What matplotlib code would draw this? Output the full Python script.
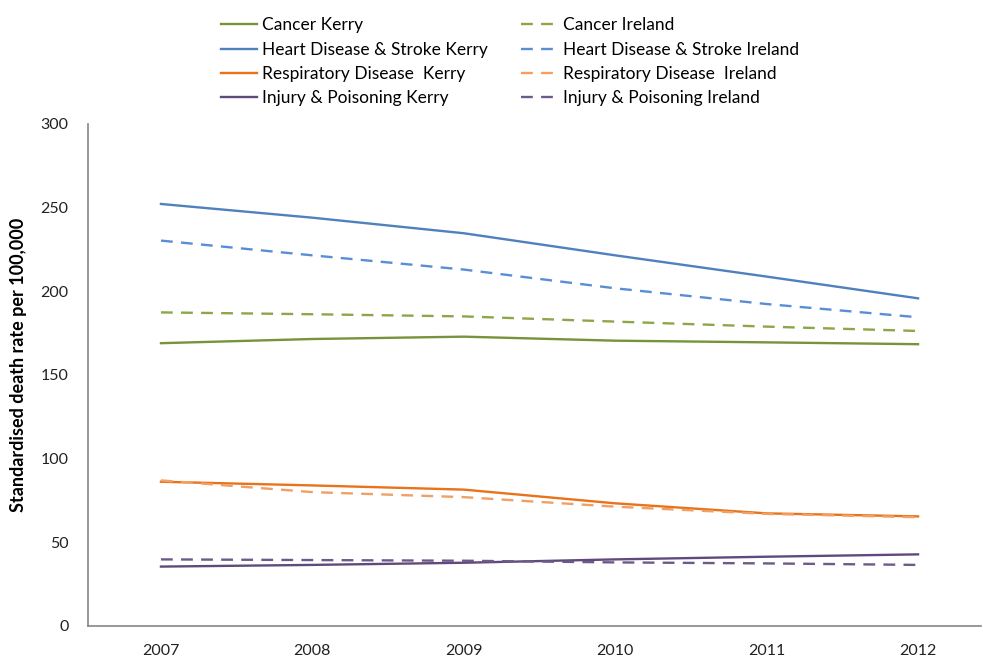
import matplotlib.pyplot as plt

plt.rcParams['font.family'] = ['Lato', 'DejaVu Sans']

years = [2007, 2008, 2009, 2010, 2011, 2012]

cancer_kerry = [169.0, 171.5, 172.9, 170.5, 169.5, 168.4]
cancer_ireland = [187.4, 186.3, 185.0, 181.9, 178.9, 176.3]
heart_kerry = [252.2, 244.0, 234.7, 221.5, 208.8, 195.8]
heart_ireland = [230.3, 221.5, 213.0, 201.8, 192.4, 184.5]
resp_kerry = [86.2, 84.0, 81.5, 73.3, 67.3, 65.5]
resp_ireland = [87.0, 80.0, 77.0, 71.3, 67.0, 65.0]
injury_kerry = [35.5, 36.5, 37.8, 39.8, 41.4, 42.8]
injury_ireland = [39.8, 39.4, 39.0, 38.0, 37.4, 36.5]

series = [
    ("Cancer Kerry", cancer_kerry, '#77933C', '-'),
    ("Heart Disease & Stroke Kerry", heart_kerry, '#4F81BD', '-'),
    ("Respiratory Disease  Kerry", resp_kerry, '#E8731A', '-'),
    ("Injury & Poisoning Kerry", injury_kerry, '#604A7B', '-'),
    ("Cancer Ireland", cancer_ireland, '#8DA64A', '--'),
    ("Heart Disease & Stroke Ireland", heart_ireland, '#5B8DD6', '--'),
    ("Respiratory Disease  Ireland", resp_ireland, '#F0A065', '--'),
    ("Injury & Poisoning Ireland", injury_ireland, '#6D5A8A', '--'),
]

fig = plt.figure(figsize=(9.83, 6.57), dpi=100)
ax = fig.add_axes([0.0895, 0.0472, 0.9085, 0.7641])

handles = []
for name, vals, col, ls in series:
    if ls == '--':
        ln, = ax.plot(years, vals, color=col, lw=1.7, linestyle=(0, (5, 3.5)), label=name)
    else:
        ln, = ax.plot(years, vals, color=col, lw=1.7, label=name)
    handles.append(ln)

ax.set_xlim(2006.518, 2012.416)
ax.set_ylim(0, 300)
ax.set_yticks([0, 50, 100, 150, 200, 250, 300])
ax.set_xticks(years)
ax.tick_params(axis='both', length=0, labelsize=11.5, colors='#222222')
ax.tick_params(axis='x', pad=13)
ax.tick_params(axis='y', pad=14)
for s in ['top', 'right']:
    ax.spines[s].set_visible(False)
for s in ['left', 'bottom']:
    ax.spines[s].set_color('#868686')
    ax.spines[s].set_linewidth(1.2)

ax.set_ylabel("Standardised death rate per 100,000", fontsize=13, fontweight='bold')
ax.yaxis.set_label_coords(-0.068, 0.52)

fig.legend(handles=handles, loc='upper left', bbox_to_anchor=(0.212, 0.992), ncol=2,
           frameon=False, fontsize=12.5, handlelength=2.1, handletextpad=0.3,
           columnspacing=1.9, labelspacing=0.48, borderaxespad=0.3)

fig.savefig("out.png", dpi=100)
